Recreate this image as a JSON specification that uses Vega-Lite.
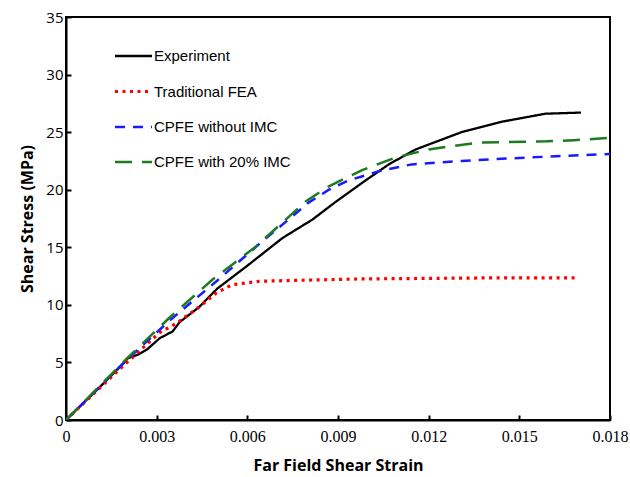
{
  "$schema": "https://vega.github.io/schema/vega-lite/v6.json",
  "width": 544,
  "height": 403,
  "autosize": {"type": "none"},
  "padding": {"left": 66, "top": 17, "right": 20, "bottom": 57},
  "background": "white",
  "config": {
    "view": {"stroke": "black", "strokeWidth": 2},
    "axis": {"grid": false, "domainColor": "black", "domainWidth": 2, "tickColor": "black", "tickWidth": 2, "tickSize": -5, "labelColor": "black", "titleColor": "black"}
  },
  "data": {
    "values": [
      {"series": "Experiment", "strain": 0, "stress": 0},
      {"series": "Experiment", "strain": 0.001, "stress": 2.55},
      {"series": "Experiment", "strain": 0.00195, "stress": 5.05},
      {"series": "Experiment", "strain": 0.00204, "stress": 5.35},
      {"series": "Experiment", "strain": 0.0024, "stress": 5.7},
      {"series": "Experiment", "strain": 0.00267, "stress": 6.1},
      {"series": "Experiment", "strain": 0.0031, "stress": 7.1},
      {"series": "Experiment", "strain": 0.00353, "stress": 7.7},
      {"series": "Experiment", "strain": 0.00376, "stress": 8.5},
      {"series": "Experiment", "strain": 0.0044, "stress": 9.8},
      {"series": "Experiment", "strain": 0.005, "stress": 11.4},
      {"series": "Experiment", "strain": 0.006, "stress": 13.4},
      {"series": "Experiment", "strain": 0.00716, "stress": 15.8},
      {"series": "Experiment", "strain": 0.00815, "stress": 17.4},
      {"series": "Experiment", "strain": 0.0089, "stress": 18.9},
      {"series": "Experiment", "strain": 0.0098, "stress": 20.6},
      {"series": "Experiment", "strain": 0.01068, "stress": 22.2},
      {"series": "Experiment", "strain": 0.01157, "stress": 23.5},
      {"series": "Experiment", "strain": 0.01309, "stress": 25.0},
      {"series": "Experiment", "strain": 0.01441, "stress": 25.9},
      {"series": "Experiment", "strain": 0.01586, "stress": 26.6},
      {"series": "Experiment", "strain": 0.01704, "stress": 26.7},
      {"series": "Traditional FEA", "strain": 0, "stress": 0},
      {"series": "Traditional FEA", "strain": 0.001, "stress": 2.5},
      {"series": "Traditional FEA", "strain": 0.002, "stress": 4.96},
      {"series": "Traditional FEA", "strain": 0.0031, "stress": 7.6},
      {"series": "Traditional FEA", "strain": 0.00366, "stress": 8.4},
      {"series": "Traditional FEA", "strain": 0.0044, "stress": 9.8},
      {"series": "Traditional FEA", "strain": 0.00498, "stress": 11.05},
      {"series": "Traditional FEA", "strain": 0.0055, "stress": 11.75},
      {"series": "Traditional FEA", "strain": 0.0064, "stress": 12.05},
      {"series": "Traditional FEA", "strain": 0.008, "stress": 12.15},
      {"series": "Traditional FEA", "strain": 0.0097, "stress": 12.25},
      {"series": "Traditional FEA", "strain": 0.012, "stress": 12.3},
      {"series": "Traditional FEA", "strain": 0.0145, "stress": 12.35},
      {"series": "Traditional FEA", "strain": 0.01685, "stress": 12.35},
      {"series": "CPFE without IMC", "strain": 0, "stress": 0},
      {"series": "CPFE without IMC", "strain": 0.002, "stress": 5.2},
      {"series": "CPFE without IMC", "strain": 0.0035, "stress": 8.8},
      {"series": "CPFE without IMC", "strain": 0.005, "stress": 12.1},
      {"series": "CPFE without IMC", "strain": 0.0064, "stress": 15.3},
      {"series": "CPFE without IMC", "strain": 0.00804, "stress": 18.9},
      {"series": "CPFE without IMC", "strain": 0.0087, "stress": 20.0},
      {"series": "CPFE without IMC", "strain": 0.00935, "stress": 20.8},
      {"series": "CPFE without IMC", "strain": 0.01035, "stress": 21.6},
      {"series": "CPFE without IMC", "strain": 0.01144, "stress": 22.2},
      {"series": "CPFE without IMC", "strain": 0.01309, "stress": 22.5},
      {"series": "CPFE without IMC", "strain": 0.0153, "stress": 22.8},
      {"series": "CPFE without IMC", "strain": 0.018, "stress": 23.1},
      {"series": "CPFE with 20% IMC", "strain": 0, "stress": 0},
      {"series": "CPFE with 20% IMC", "strain": 0.002, "stress": 5.3},
      {"series": "CPFE with 20% IMC", "strain": 0.00343, "stress": 8.9},
      {"series": "CPFE with 20% IMC", "strain": 0.00485, "stress": 12.2},
      {"series": "CPFE with 20% IMC", "strain": 0.0063, "stress": 15.1},
      {"series": "CPFE with 20% IMC", "strain": 0.00794, "stress": 19.0},
      {"series": "CPFE with 20% IMC", "strain": 0.0087, "stress": 20.3},
      {"series": "CPFE with 20% IMC", "strain": 0.0098, "stress": 21.7},
      {"series": "CPFE with 20% IMC", "strain": 0.01091, "stress": 22.8},
      {"series": "CPFE with 20% IMC", "strain": 0.012, "stress": 23.5},
      {"series": "CPFE with 20% IMC", "strain": 0.01365, "stress": 24.1},
      {"series": "CPFE with 20% IMC", "strain": 0.0159, "stress": 24.2},
      {"series": "CPFE with 20% IMC", "strain": 0.0168, "stress": 24.3},
      {"series": "CPFE with 20% IMC", "strain": 0.018, "stress": 24.5}
    ]
  },
  "mark": {"type": "line", "strokeCap": "butt", "clip": true},
  "encoding": {
    "x": {
      "field": "strain", "type": "quantitative",
      "scale": {"domain": [0, 0.018], "nice": false},
      "axis": {"values": [0, 0.003, 0.006, 0.009, 0.012, 0.015, 0.018], "format": "~g", "title": "Far Field Shear Strain", "labelFont": "Liberation Serif", "labelFontSize": 16, "labelPadding": 13, "titleFont": "Open Sans", "titleFontSize": 16, "titleFontWeight": "bold", "titlePadding": 13, "labelFlush": false}
    },
    "y": {
      "field": "stress", "type": "quantitative",
      "scale": {"domain": [0, 35], "nice": false},
      "axis": {"values": [0, 5, 10, 15, 20, 25, 30, 35], "title": "Shear Stress (MPa)", "labelFont": "Open Sans", "labelFontSize": 15, "labelPadding": 8, "titleFont": "Open Sans", "titleFontSize": 16, "titleFontWeight": "bold", "titlePadding": 10, "labelFlush": false}
    },
    "strokeWidth": {
      "field": "series", "type": "nominal",
      "scale": {"type": "ordinal", "domain": ["Experiment", "Traditional FEA", "CPFE without IMC", "CPFE with 20% IMC"], "range": [2.3, 3.2, 2.5, 2.5]},
      "legend": null
    },
    "color": {
      "field": "series", "type": "nominal",
      "scale": {"domain": ["Experiment", "Traditional FEA", "CPFE without IMC", "CPFE with 20% IMC"], "range": ["black", "#ff0000", "#1a1aff", "#1e7a1e"]},
      "legend": {"title": null, "orient": "none", "legendX": 47, "legendY": 19, "symbolType": "stroke", "symbolSize": 1369, "symbolStrokeWidth": 2.8, "labelFont": "Liberation Sans", "labelFontSize": 15, "labelColor": "black", "labelOffset": 0, "rowPadding": 7}
    },
    "strokeDash": {
      "field": "series", "type": "nominal",
      "scale": {"domain": ["Experiment", "Traditional FEA", "CPFE without IMC", "CPFE with 20% IMC"], "range": [[1, 0], [3, 4.5], [10, 8], [17, 10]]},
      "legend": {"title": null, "orient": "none", "legendX": 47, "legendY": 19, "symbolType": "stroke", "symbolSize": 1369, "symbolStrokeWidth": 2.8, "labelFont": "Liberation Sans", "labelFontSize": 15, "labelColor": "black", "labelOffset": 0, "rowPadding": 7}
    }
  }
}
